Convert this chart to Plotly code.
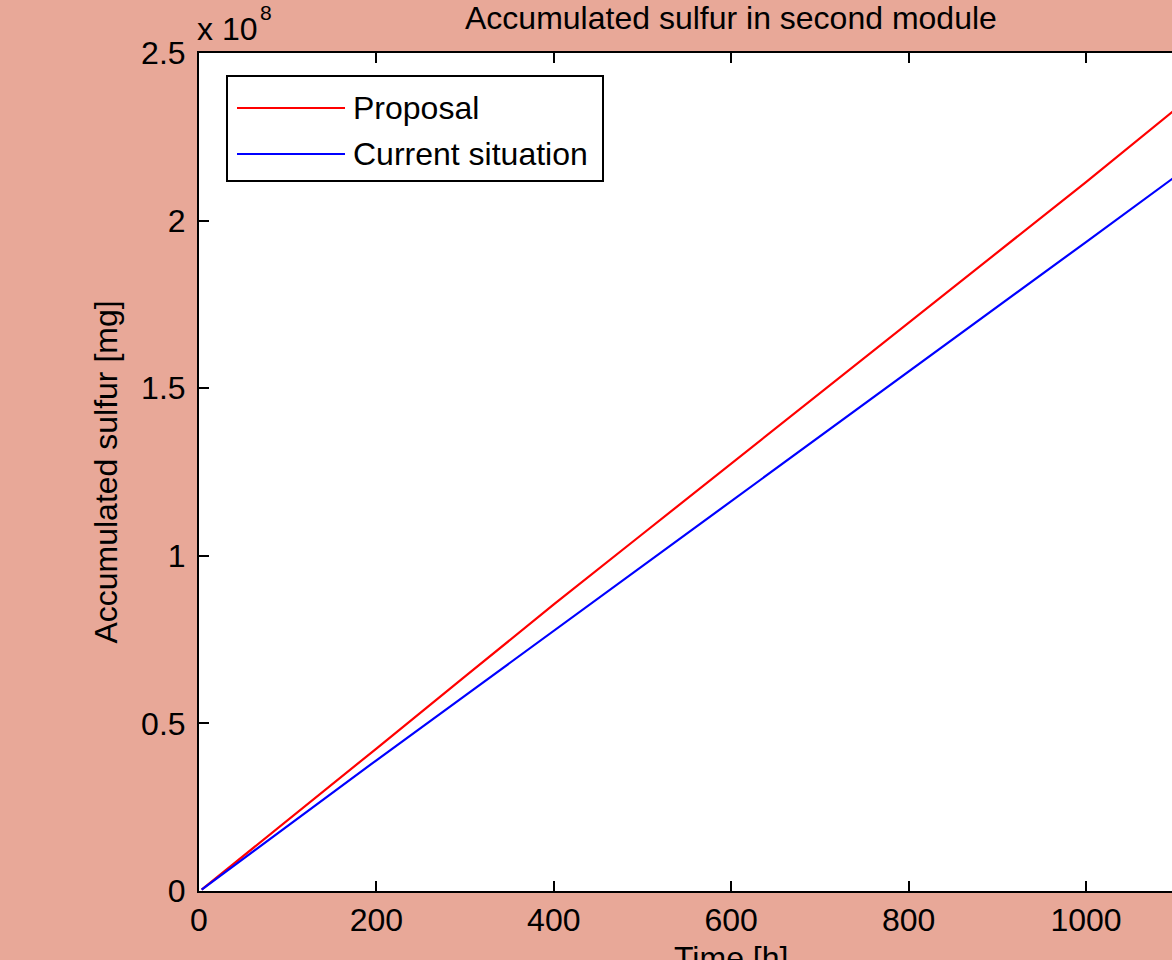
import plotly.graph_objects as go

time_h = [0, 3, 100, 200, 300, 400, 500, 600, 700, 800, 900, 1000, 1100]
proposal = [0, 0.004e8, 0.21e8, 0.425e8, 0.64e8, 0.855e8, 1.065e8, 1.275e8, 1.485e8, 1.695e8, 1.905e8, 2.115e8, 2.33e8]
current = [0, 0.004e8, 0.195e8, 0.39e8, 0.583e8, 0.776e8, 0.97e8, 1.163e8, 1.357e8, 1.55e8, 1.743e8, 1.936e8, 2.13e8]

x_ticks = [0, 200, 400, 600, 800, 1000]
y_ticks = [0, 0.5e8, 1e8, 1.5e8, 2e8, 2.5e8]
y_tick_text = ["0", "0.5", "1", "1.5", "2", "2.5"]

series_names = ["Proposal", "Current situation"]
series_colors = ["#ff0000", "#0000ff"]

FONT = "Liberation Sans, Arial, sans-serif"
FS = 32
BG = "#E8A898"

W, H = 1172, 960
L, T, B = 199, 53, 891
R = 1172

fig = go.Figure()
for name, ys, col in zip(series_names, [proposal, current], series_colors):
    fig.add_trace(go.Scatter(x=time_h[1:], y=ys[1:], mode="lines", name=name,
                             line=dict(color=col, width=2.2), showlegend=False))

def px(x):
    return (x - L) / (R - L)

def py(y):
    return (B - y) / (B - T)

# legend box drawn manually
shapes = [dict(type="rect", xref="paper", yref="paper",
               x0=px(227), x1=px(603), y0=py(181), y1=py(76),
               line=dict(color="black", width=2), fillcolor="white", layer="above")]
annotations = []
for i, (name, col) in enumerate(zip(series_names, series_colors)):
    yy = [108, 154][i]
    shapes.append(dict(type="line", xref="paper", yref="paper",
                       x0=px(237), x1=px(345), y0=py(yy), y1=py(yy),
                       line=dict(color=col, width=2), layer="above"))
    annotations.append(dict(text=name, xref="paper", yref="paper", x=px(351), y=py(yy),
                            xanchor="left", yanchor="middle", showarrow=False,
                            font=dict(family=FONT, size=FS, color="black")))

# title, x-axis title, exponent label
annotations.append(dict(text="Accumulated sulfur in second module", xref="x", yref="paper",
                        x=600, y=py(18), xanchor="center", yanchor="middle", showarrow=False,
                        font=dict(family=FONT, size=FS, color="black")))
annotations.append(dict(text="Time [h]", xref="x", yref="paper",
                        x=600, y=py(958), xanchor="center", yanchor="middle", showarrow=False,
                        font=dict(family=FONT, size=FS, color="black")))
annotations.append(dict(text="x 10", xref="paper", yref="paper",
                        x=px(195), y=py(29), xanchor="left", yanchor="middle", showarrow=False,
                        font=dict(family=FONT, size=FS, color="black")))
annotations.append(dict(text="8", xref="paper", yref="paper",
                        x=px(258), y=py(13), xanchor="left", yanchor="middle", showarrow=False,
                        font=dict(family=FONT, size=21, color="black")))

fig.update_layout(
    width=W, height=H,
    paper_bgcolor=BG, plot_bgcolor="white",
    margin=dict(l=L, r=W - R, t=T, b=H - B, pad=0),
    font=dict(family=FONT, size=FS, color="black"),
    shapes=shapes, annotations=annotations,
    showlegend=False,
)
fig.update_xaxes(range=[0, (R - L) / (1086 - 199) * 1000], tickvals=x_ticks,
                 ticks="inside", ticklen=10, tickwidth=2, tickcolor="black",
                 showline=True, linecolor="black", linewidth=2, mirror="ticks",
                 showgrid=False, zeroline=False, ticklabelstandoff=0,
                 tickfont=dict(family=FONT, size=FS, color="black"))
fig.update_yaxes(range=[0, 2.5e8], tickvals=y_ticks, ticktext=y_tick_text,
                 ticks="inside", ticklen=10, tickwidth=2, tickcolor="black",
                 showline=True, linecolor="black", linewidth=2, mirror=False,
                 showgrid=False, zeroline=False, ticklabelstandoff=5,
                 title=dict(text="Accumulated sulfur [mg]", standoff=14,
                            font=dict(family=FONT, size=FS, color="black")),
                 tickfont=dict(family=FONT, size=FS, color="black"))

fig.write_html("out.html", config={"displayModeBar": False},
               post_script="document.body.style.margin='0';document.body.style.background='%s';"
                           "document.body.style.overflow='hidden';" % BG)
